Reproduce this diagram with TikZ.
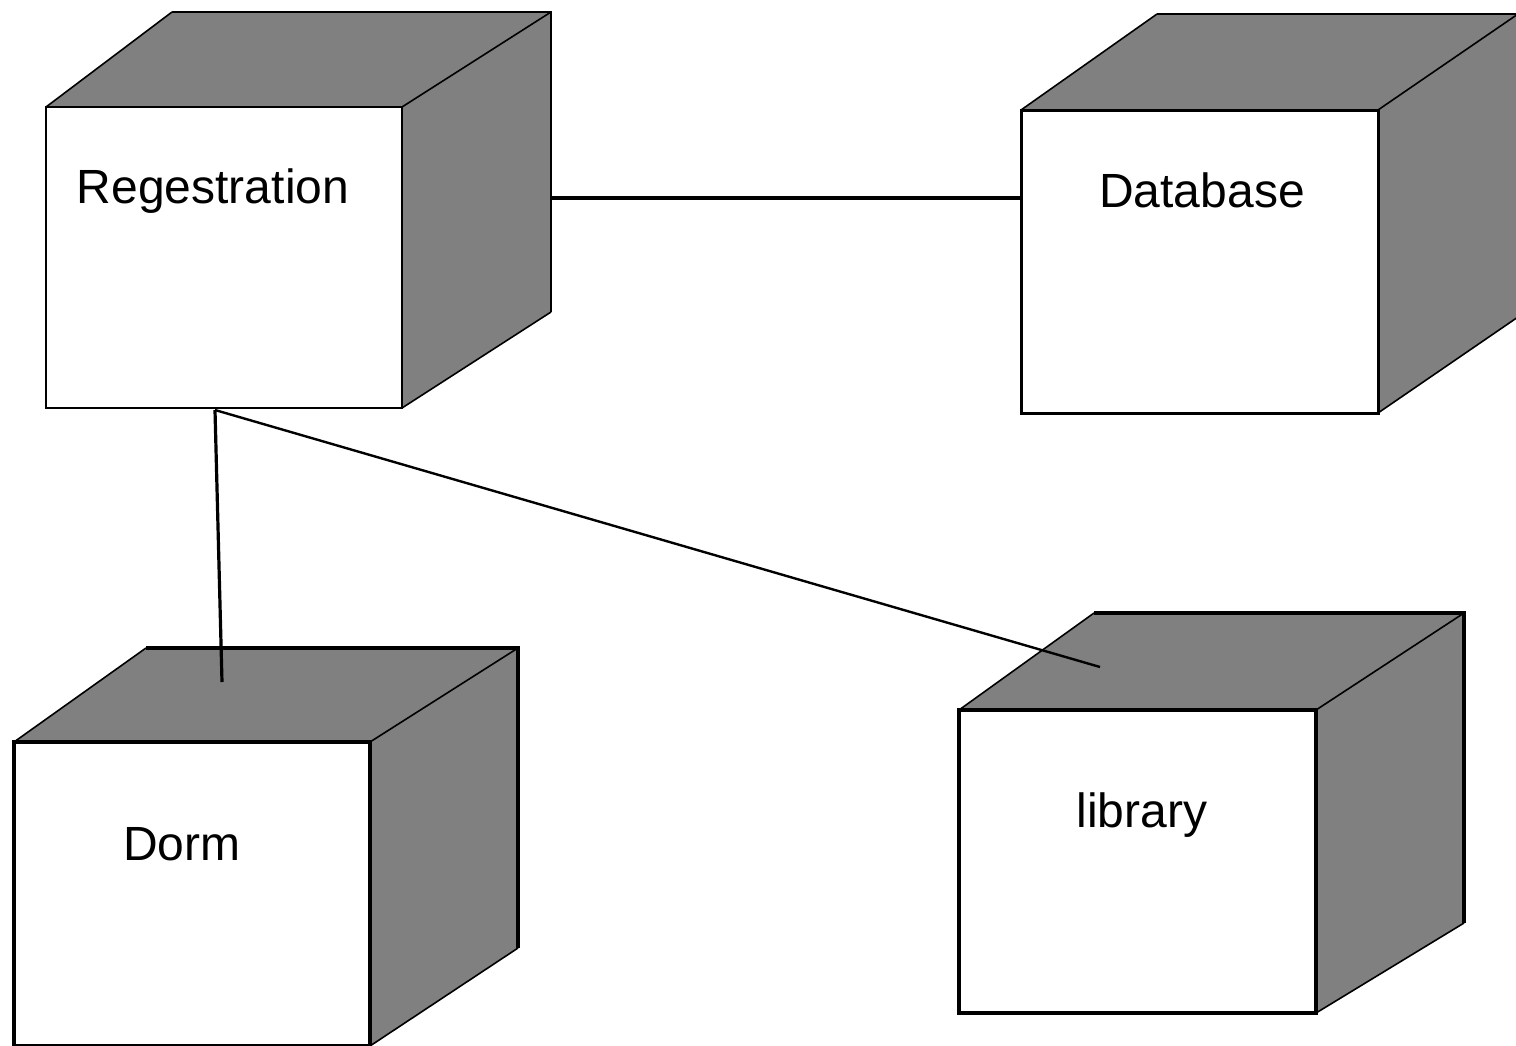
\documentclass[tikz,border=0pt]{standalone}
\usepackage{fontspec}
\setmainfont{Liberation Sans}
\usetikzlibrary{fit}
\definecolor{shade}{HTML}{808080}
\begin{document}
\begin{tikzpicture}[x=0.5pt,y=-0.5pt,
  side/.style={fill=shade},
  slant/.style={line width=0.8pt},
  rim/.style={line width=#1},
  front/.style={fill=white, draw, inner sep=0pt, outer sep=0pt},
  caption/.style={anchor=base, inner sep=0pt, font=\fontsize{24pt}{28pt}\selectfont},
  link/.style={line width=#1}]
\useasboundingbox (0,0) rectangle (1516,1045);
\clip (0,0) rectangle (1516,1045);

% Regestration
\fill[side] (46,107) -- (172,12) -- (551,12) -- (551,312) -- (402,408) -- (402,107) -- cycle;
\draw[slant] (46,107) -- (172,12) (402,107) -- (551,12) (402,408) -- (551,312);
\draw[rim=1pt] (172,12) -- (551,12) -- (551,312);
\node[front, line width=1pt, fit={(46,107) (402,408)}] (reg) {};
\node[caption] (reg-label) at (213,203) {Regestration};

% Database
\fill[side] (1021,110) -- (1157,14) -- (1518,14) -- (1518,317) -- (1378,413) -- (1378,110) -- cycle;
\draw[slant] (1021,110) -- (1157,14) (1378,110) -- (1518,14) (1378,413) -- (1518,317);
\draw[rim=1.2pt] (1157,14) -- (1518,14);
\node[front, line width=1.5pt, fit={(1021,110) (1378,413)}] (db) {};
\node[caption] (db-label) at (1202,207) {Database};

% Dorm
\fill[side] (14,742) -- (146,648) -- (518,648) -- (518,948) -- (370,1046) -- (370,742) -- cycle;
\draw[slant] (14,742) -- (146,648) (370,742) -- (518,648) (370,1046) -- (518,948);
\draw[rim=2pt] (146,648) -- (518,648) -- (518,948);
\node[front, line width=2pt, fit={(14,742) (370,1046)}] (dorm) {};
\node[caption] (dorm-label) at (182,860) {Dorm};

% library
\fill[side] (959,710) -- (1094,613) -- (1464,613) -- (1464,923) -- (1316,1013) -- (1316,710) -- cycle;
\draw[slant] (959,710) -- (1094,613) (1316,710) -- (1464,613) (1316,1013) -- (1464,923);
\draw[rim=2pt] (1094,613) -- (1464,613) -- (1464,923);
\node[front, line width=2pt, fit={(959,710) (1316,1013)}] (lib) {};
\node[caption] (lib-label) at (1142,827) {library};

% connection end points
\coordinate (reg-right) at (551,198);
\coordinate (db-left) at (1021,198);
\coordinate (reg-bottom) at (215,410);
\coordinate (dorm-top) at (222,682);
\coordinate (lib-top) at (1100,667);

% connections
\draw[link=2pt] (reg-right) -- (db-left);
\draw[link=1.6pt] (reg-bottom) -- (dorm-top);
\draw[link=1.2pt] (reg-bottom) -- (lib-top);
\end{tikzpicture}
\end{document}
